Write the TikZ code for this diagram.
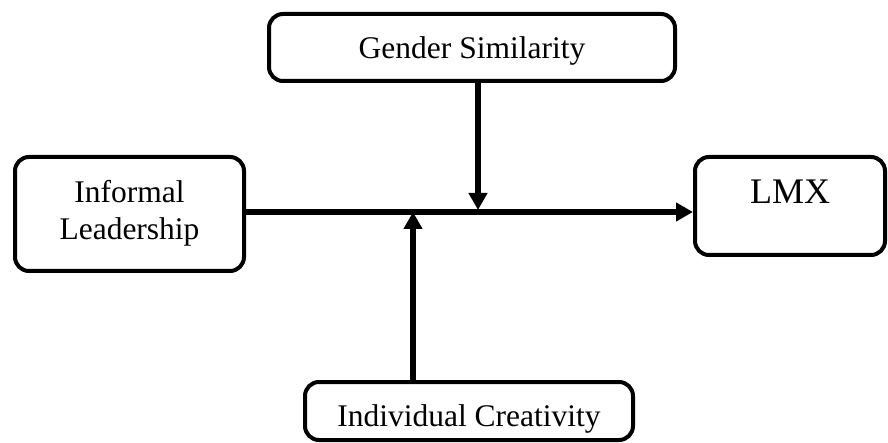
\documentclass[tikz,border=0pt]{standalone}
\usepackage{fontspec}
\setmainfont{Liberation Serif}
\usetikzlibrary{arrows.meta}
\begin{document}
\begin{tikzpicture}[x=1pt,y=-1pt,
    box/.style={draw,line width=4pt,rounded corners=14pt,inner sep=0pt,align=center,
      font=\fontsize{31.5}{37}\selectfont},
    link/.style={line width=5.5pt,-{Triangle[length=17pt,width=18pt]}}]
  \useasboundingbox (0,0) rectangle (888,443);
  \node[box,minimum width=406pt,minimum height=67pt,text depth=0pt] (gender) at (472,47.5) {Gender Similarity};
  \node[box,minimum width=229pt,minimum height=114pt,text depth=8pt] (informal) at (129.5,214) {Informal\\Leadership};
  \node[box,minimum width=190pt,minimum height=98pt,text depth=28pt,
    font=\fontsize{36}{42}\selectfont] (lmx) at (790,206) {LMX};
  \node[box,minimum width=328pt,minimum height=58pt,text height=30pt,text depth=0pt] (creativity) at (469,411) {Individual Creativity};
  \coordinate (up) at (413,212);
  \coordinate (down) at (478,210);
  \draw[link] (informal.east |- up) -- (lmx.west |- up);
  \draw[link] (gender.south -| down) -- (down);
  \draw[link] (creativity.north -| up) -- (up);
\end{tikzpicture}
\end{document}
